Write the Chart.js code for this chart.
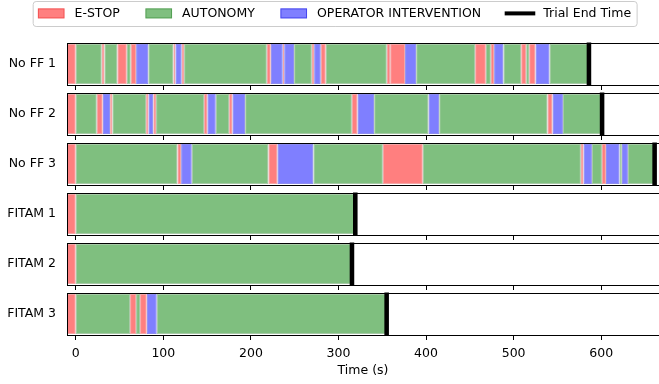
<!DOCTYPE html>
<html><head><meta charset="utf-8">
<script src="https://cdn.jsdelivr.net/npm/chart.js@4/dist/chart.umd.min.js"></script>
<style>html,body{margin:0;padding:0;background:#fff}canvas{display:block}</style>
</head><body>
<canvas id="c" width="659" height="384"></canvas>
<script>
const trials = ['No FF 1','No FF 2','No FF 3','FITAM 1','FITAM 2','FITAM 3'];
const xTicks = [0,100,200,300,400,500,600];
const seriesLabels = ['E-STOP','AUTONOMY','OPERATOR INTERVENTION','Trial End Time'];
// segments: [trial index, start (s), end (s)]
const estopSegments = [
  [0,-10,0],[0,29.7,32.7],[0,47.5,58.3],[0,62.8,68.9],[0,111.5,113.8],[0,121,123.7],[0,218.2,222.7],
  [0,236.4,238],[0,269.6,272.2],[0,279.8,285.5],[0,355.2,359],[0,359,376],[0,456,468.3],[0,474,477.7],
  [0,508.6,514.3],[0,517.7,525],
  [1,-10,0],[1,24,30.8],[1,39.2,41.8],[1,80.3,83],[1,88.6,91.7],[1,146.5,150.3],[1,175.1,178.9],
  [1,315.3,321.7],[1,538.7,544.4],
  [2,-10,0],[2,116.1,120.3],[2,220,230.3],[2,350.7,396.3],[2,576.8,579.8],[2,600.8,605.4],
  [3,-10,0],
  [4,-10,0],
  [5,-10,0],[5,62,68.9],[5,73.4,81.1]
];
const autonomySegments = [
  [0,0,29.7],[0,32.7,47.5],[0,58.3,62.8],[0,82.9,111.5],[0,123.7,218.2],[0,249.3,269.6],[0,285.5,355.2],
  [0,388.7,456],[0,468.3,474],[0,488.4,508.6],[0,514.3,517.7],[0,541,586],
  [1,0,24],[1,41.8,80.3],[1,91.7,146.5],[1,159.9,175.1],[1,193.4,315.3],[1,340.7,402.8],[1,415,538.7],
  [1,556.3,601],
  [2,0,116.1],[2,132.5,220],[2,271.4,350.7],[2,396.3,576.8],[2,589.4,600.8],[2,621,623.6],[2,630.5,661],
  [3,0,319.2],
  [4,0,315.4],
  [5,0,62],[5,68.9,73.4],[5,92.5,355]
];
const operatorSegments = [
  [0,68.9,82.9],[0,113.8,121],[0,222.7,236.4],[0,238,249.3],[0,272.2,279.8],[0,376,388.7],[0,477.7,488.4],
  [0,525,541],
  [1,30.8,39.2],[1,83,88.6],[1,150.3,159.9],[1,178.9,193.4],[1,321.7,340.7],[1,402.8,415],[1,544.4,556.3],
  [2,120.3,132.5],[2,230.3,271.4],[2,579.8,589.4],[2,605.4,621],[2,623.6,630.5],
  [5,81.1,92.5]
];
const trialEndTimes = [586, 601, 661, 319.2, 315.4, 355];

const END_HALF_WIDTH = 2.6; // visual line half-thickness in seconds
const toBars = segs => segs.map(s => ({ y: trials[s[0]], x: [s[1], s[2]] }));

Chart.defaults.font.family = '"DejaVu Sans", sans-serif';
Chart.defaults.font.size = 12.5;
Chart.defaults.color = '#000';

const panelPlugin = {
  id: 'panels',
  afterDatasetsDraw(chart) {
    const { ctx, scales: { x, y }, chartArea } = chart;
    const band = y.getPixelForValue(1) - y.getPixelForValue(0);
    const h = band * 0.86;
    ctx.save();
    ctx.strokeStyle = '#000';
    ctx.lineWidth = 1;
    const left = Math.round(x.getPixelForValue(x.min)) + 0.5;
    trials.forEach((t, i) => {
      const cy = y.getPixelForValue(i);
      const top = Math.round(cy - h / 2) + 0.5;
      const bottom = Math.round(cy + h / 2) - 0.5;
      ctx.strokeRect(left, top, chartArea.right + 10 - left, bottom - top);
      ctx.beginPath();
      x.ticks.forEach(tk => {
        const px = Math.floor(x.getPixelForValue(tk.value)) + 0.5;
        ctx.moveTo(px, bottom); ctx.lineTo(px, bottom + 4.5);
      });
      ctx.stroke();
    });
    ctx.restore();
  }
};

const legendPlugin = {
  id: 'mplLegend',
  afterDraw(chart) {
    const ctx = chart.ctx;
    ctx.save();
    ctx.font = '12.5px "DejaVu Sans"';
    const handleW = 26.6, handleH = 10, gapText = 10, gapItem = 25.6, padL = 4.7, padR = 6;
    const ds = chart.data.datasets;
    const widths = ds.map(d => ctx.measureText(d.label).width);
    let total = 0;
    widths.forEach((w, i) => { total += handleW + gapText + w + (i < widths.length - 1 ? gapItem : 0); });
    const cx = 334.5, cy = 13.4;
    let x = cx - total / 2;
    const fl = x - padL, fr = x + total + padR, ft = 1.5, fb = 26.5;
    ctx.beginPath();
    if (ctx.roundRect) ctx.roundRect(fl, ft, fr - fl, fb - ft, 3); else ctx.rect(fl, ft, fr - fl, fb - ft);
    ctx.fillStyle = 'rgba(255,255,255,0.8)';
    ctx.fill();
    ctx.strokeStyle = '#cccccc';
    ctx.lineWidth = 1;
    ctx.stroke();
    ds.forEach((d, i) => {
      if (d.legendLine) {
        ctx.beginPath();
        ctx.strokeStyle = '#000';
        ctx.lineWidth = 4;
        ctx.lineCap = 'square';
        ctx.moveTo(x, cy); ctx.lineTo(x + handleW, cy);
        ctx.stroke();
        ctx.lineCap = 'butt';
      } else {
        ctx.fillStyle = d.backgroundColor;
        ctx.fillRect(x, cy - handleH / 2, handleW, handleH);
        ctx.strokeStyle = d.borderColor;
        ctx.lineWidth = 1;
        ctx.strokeRect(x + 0.5, cy - handleH / 2 + 0.5, handleW - 1, handleH - 1);
      }
      ctx.fillStyle = '#000';
      ctx.textBaseline = 'middle';
      ctx.textAlign = 'left';
      ctx.fillText(d.label, x + handleW + gapText, cy + 0.5);
      x += handleW + gapText + widths[i] + gapItem;
    });
    ctx.restore();
  }
};

const common = { grouped: false, borderWidth: 1, borderSkipped: false, barPercentage: 0.8, categoryPercentage: 1 };

new Chart(document.getElementById('c'), {
  type: 'bar',
  data: {
    labels: trials,
    datasets: [
      Object.assign({ label: seriesLabels[0], data: toBars(estopSegments),
        backgroundColor: 'rgba(255,0,0,0.5)', borderColor: 'rgba(220,0,0,0.35)' }, common),
      Object.assign({ label: seriesLabels[1], data: toBars(autonomySegments),
        backgroundColor: 'rgba(0,128,0,0.5)', borderColor: 'rgba(0,100,0,0.35)' }, common),
      Object.assign({ label: seriesLabels[2], data: toBars(operatorSegments),
        backgroundColor: 'rgba(0,0,255,0.5)', borderColor: 'rgba(0,0,220,0.45)' }, common),
      { label: seriesLabels[3], legendLine: true, order: -1, grouped: false,
        data: trialEndTimes.map((t, i) => ({ y: trials[i], x: [t - END_HALF_WIDTH, t + END_HALF_WIDTH] })),
        backgroundColor: '#000', borderWidth: 0, barPercentage: 0.86, categoryPercentage: 1 }
    ]
  },
  options: {
    indexAxis: 'y',
    responsive: false,
    animation: false,
    layout: { padding: { top: 39, left: 0, right: 0, bottom: 0 } },
    plugins: { legend: { display: false }, tooltip: { enabled: false } },
    scales: {
      x: {
        type: 'linear', min: -10, max: 666,
        afterBuildTicks: s => { s.ticks = xTicks.map(v => ({ value: v })); },
        afterFit: s => { s.height = 45; },
        grid: { display: false, drawTicks: false },
        border: { display: false },
        ticks: { padding: 7, color: '#000', font: { size: 12.5 } },
        title: { display: true, text: 'Time (s)', color: '#000', font: { size: 12.5 }, padding: { top: 0, bottom: 6 } }
      },
      y: {
        type: 'category',
        afterFit: s => { s.width = 67; },
        grid: { display: false, drawTicks: false },
        border: { display: false },
        ticks: { padding: 11, color: '#000', font: { size: 12.5 } }
      }
    }
  },
  plugins: [panelPlugin, legendPlugin]
});
</script>
</body></html>
